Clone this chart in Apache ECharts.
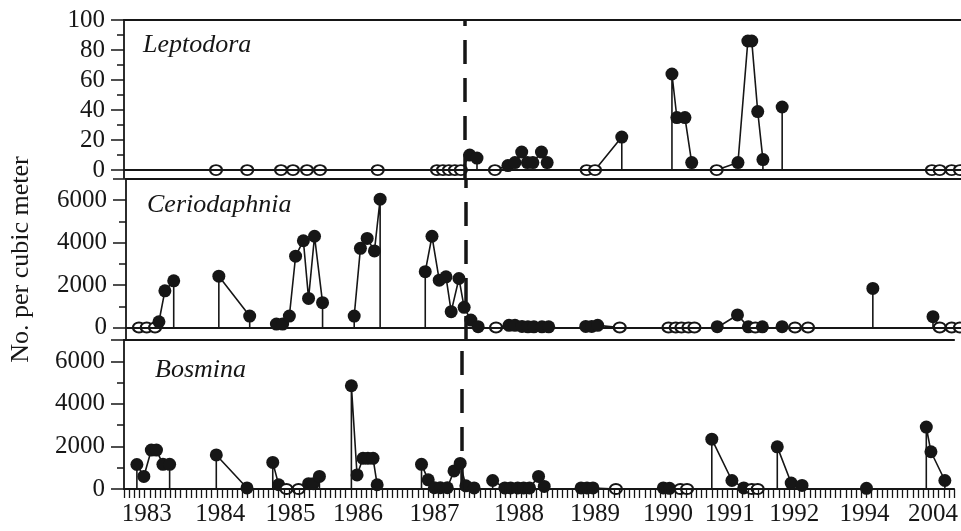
<!DOCTYPE html>
<html>
<head>
<meta charset="utf-8">
<script src="https://cdn.jsdelivr.net/npm/echarts@6/dist/echarts.min.js"></script>
<style>
  html, body { margin: 0; padding: 0; background: #fff; }
  #chart { width: 961px; height: 531px; }
</style>
</head>
<body>
<div id="chart"></div>
<script>
// x 軸是採樣序號(每個刻度一次採樣)，年份標在各年的中間
const xMax = 161;
const yearLabels = ['1983', '1984', '1985', '1986', '1987', '1988', '1989', '1990', '1991', '1992', '1994', '2004'];
const yearPos = [4.4, 18.65, 32.3, 45.4, 60.2, 76.6, 91.35, 105.5, 117.5, 130.0, 143.6, 156.9];
// 虛線位置
const splitPos = 65.6;

// 每一組是同一季連續的採樣 [序號, 數量]，0 = 空心圈
const leptodora = [
    [[17.7, 0], [23.7, 0], [30.2, 0], [32.5, 0], [35.2, 0], [37.7, 0], [48.8, 0]],
    [[60.2, 0], [61.35, 0], [62.5, 0], [63.65, 0], [64.8, 0], [66.5, 10], [67.9, 8]],
    [[71.35, 0], [73.85, 3], [75.2, 5], [76.5, 12], [77.6, 5], [78.65, 5], [80.3, 12], [81.4, 5]],
    [[89.0, 0], [90.6, 0], [95.75, 22]],
    [[105.4, 64], [106.35, 35], [107.9, 35], [109.2, 5]],
    [[114.0, 0], [118.1, 5], [120.0, 86], [120.75, 86], [121.9, 39], [122.9, 7]],
    [[126.6, 42]],
    [[155.4, 0], [156.9, 0], [159.2, 0], [160.8, 0]]
];
const ceriodaphnia = [
    [[2.5, 0], [4.0, 0], [5.6, 0], [6.35, 270], [7.5, 1730], [9.2, 2200]],
    [[17.9, 2420], [23.85, 540]],
    [[29.0, 160], [30.2, 160], [31.5, 540], [32.7, 3360], [34.2, 4090], [35.2, 1370], [36.35, 4300], [37.9, 1170]],
    [[44.0, 540], [45.2, 3730], [46.5, 4200], [47.9, 3610], [49.0, 6050]],
    [[57.7, 2630], [59.0, 4300], [60.4, 2230], [61.7, 2390], [62.7, 745], [64.2, 2310], [65.2, 950], [66.5, 350], [67.9, 40]],
    [[71.35, 0], [73.85, 100], [75.0, 100], [76.35, 50], [77.5, 30], [78.65, 30], [80.2, 30], [81.5, 30]],
    [[88.65, 50], [89.8, 50], [90.95, 100], [95.2, 0]],
    [[104.6, 0], [106.0, 0], [107.1, 0], [108.45, 0], [109.6, 0]],
    [[114.0, 40], [117.9, 590], [120.0, 30], [121.35, 0], [122.7, 30]],
    [[126.5, 40], [129.0, 0], [131.5, 0]],
    [[144.0, 1840]],
    [[155.6, 510], [156.9, 0], [159.2, 0], [160.8, 0]]
];
const bosmina = [
    [[2.5, 1150], [3.85, 590], [5.3, 1830], [6.3, 1830], [7.55, 1160], [8.85, 1160]],
    [[17.9, 1600], [23.85, 50]],
    [[28.85, 1250], [30.0, 200], [31.5, 0], [33.85, 0], [35.8, 250], [36.7, 250], [37.9, 590]],
    [[44.1, 4850], [45.2, 660], [46.35, 1440], [47.3, 1440], [48.3, 1440], [49.1, 200]],
    [[57.7, 1160], [59.0, 430], [60.2, 60], [61.35, 60], [62.7, 60], [64.0, 850], [65.2, 1200], [66.3, 150], [67.9, 50]],
    [[71.5, 400], [73.85, 50], [75.0, 50], [76.35, 50], [77.5, 50], [78.65, 50], [80.4, 590], [81.5, 120]],
    [[88.65, 50], [89.8, 50], [90.95, 50], [95.4, 0]],
    [[104.6, 50], [105.8, 30], [107.9, 0], [109.2, 0]],
    [[114.0, 2340], [117.9, 400], [120.2, 50], [121.75, 0], [122.9, 0]],
    [[126.7, 1980], [129.4, 280], [131.5, 170]],
    [[144.0, 30]],
    [[155.6, 2910], [156.5, 1750], [159.2, 400]]
];
const names = ['Leptodora', 'Ceriodaphnia', 'Bosmina'];

const ink = '#161616';
const serif = 'Liberation Serif';
const myChart = echarts.init(document.getElementById('chart'));

const grids = [
    { left: 124, right: 0, top: 20, height: 158 },
    { left: 124, right: 0, top: 179, height: 161 },
    { left: 124, right: 0, top: 340, height: 149 }
];
// 各面板 y 軸範圍與刻度
const yRange = [[-5.3, 100], [-590, 7000], [0, 7000]];
const yLabels = [[0, 20, 40, 60, 80, 100], [0, 2000, 4000, 6000], [0, 2000, 4000, 6000]];
const yMajor = [[0, 20, 40, 60, 80, 100], [0, 2000, 4000, 6000, 7000], [0, 2000, 4000, 6000, 7000]];
const yMinor = [[10, 30, 50, 70, 90], [1000, 3000, 5000], [1000, 3000, 5000]];

const xAxis = [];
const yAxis = [];
grids.forEach((g, k) => {
    const last = k === 2;
    // 零線(底面板即為 x 軸)
    xAxis.push({
        type: 'value', gridIndex: k, min: 0, max: xMax, interval: 1, position: 'bottom', z: 3,
        axisLine: { onZero: true, onZeroAxisIndex: k * 2, lineStyle: { color: ink, width: 1.8 } },
        axisTick: { show: last, length: 9, lineStyle: { color: ink, width: 1.3 } },
        axisLabel: {
            show: last, customValues: yearPos, margin: 13,
            fontFamily: serif, fontSize: 25, color: ink,
            formatter: v => {
                const i = yearPos.findIndex(p => Math.abs(p - v) < 0.01);
                return i >= 0 ? yearLabels[i] : '';
            }
        },
        splitLine: { show: false }
    });
    // 面板上框線
    xAxis.push({
        type: 'value', gridIndex: k, min: 0, max: xMax, position: 'top',
        axisLine: { onZero: false, lineStyle: { color: ink, width: 1.8 } },
        axisTick: { show: false }, axisLabel: { show: false }, splitLine: { show: false }
    });
    yAxis.push({
        type: 'value', gridIndex: k, min: yRange[k][0], max: yRange[k][1], position: 'left',
        axisLine: { show: true, onZero: false, lineStyle: { color: ink, width: 1.8 } },
        axisTick: { show: true, length: 13, customValues: yMajor[k], lineStyle: { color: ink, width: 1.5 } },
        axisLabel: {
            customValues: yLabels[k], margin: 19, fontFamily: serif, fontSize: 25, color: ink,
            formatter: v => String(v)
        },
        splitLine: { show: false },
        name: k === 1 ? 'No. per cubic meter' : '',
        nameLocation: 'middle', nameGap: 92,
        nameTextStyle: { fontFamily: serif, fontSize: 26, color: ink }
    });
    // 次刻度
    yAxis.push({
        type: 'value', gridIndex: k, min: yRange[k][0], max: yRange[k][1], position: 'left',
        axisLine: { show: false },
        axisTick: { show: true, length: 7, customValues: yMinor[k], lineStyle: { color: ink, width: 1.5 } },
        axisLabel: { show: false }, splitLine: { show: false }
    });
});

const openItem = { symbolSize: [12, 10], itemStyle: { color: '#fff', borderColor: ink, borderWidth: 2 } };
const series = [];
[leptodora, ceriodaphnia, bosmina].forEach((groups, k) => {
    groups.forEach((g, i) => {
        const data = [{ value: [g[0][0], 0], symbol: 'none' }];
        g.forEach(([x, v]) => data.push(v === 0 ? Object.assign({ value: [x, 0] }, openItem) : { value: [x, v] }));
        data.push({ value: [g[g.length - 1][0], 0], symbol: 'none' });
        const s = {
            type: 'line', name: names[k], xAxisIndex: k * 2, yAxisIndex: k * 2,
            data: data, symbol: 'circle', symbolSize: 13, showAllSymbol: true,
            lineStyle: { color: ink, width: 1.6 }, itemStyle: { color: ink },
            animation: false, silent: true, z: 2
        };
        if (i === 0) {
            s.markLine = {
                silent: true, symbol: 'none', label: { show: false },
                lineStyle: { color: ink, width: 3.5, type: [24, 14] },
                data: [{ xAxis: splitPos }]
            };
        }
        series.push(s);
    });
});

const nameTop = [32, 192, 357];
const nameLeft = [143, 147, 155];
myChart.setOption({
    animation: false,
    title: names.map((n, k) => ({
        text: n, left: nameLeft[k], top: nameTop[k], padding: 0,
        textStyle: { fontFamily: serif, fontStyle: 'italic', fontWeight: 'normal', fontSize: 26, color: ink }
    })),
    grid: grids,
    xAxis: xAxis,
    yAxis: yAxis,
    series: series
});
</script>
</body>
</html>
